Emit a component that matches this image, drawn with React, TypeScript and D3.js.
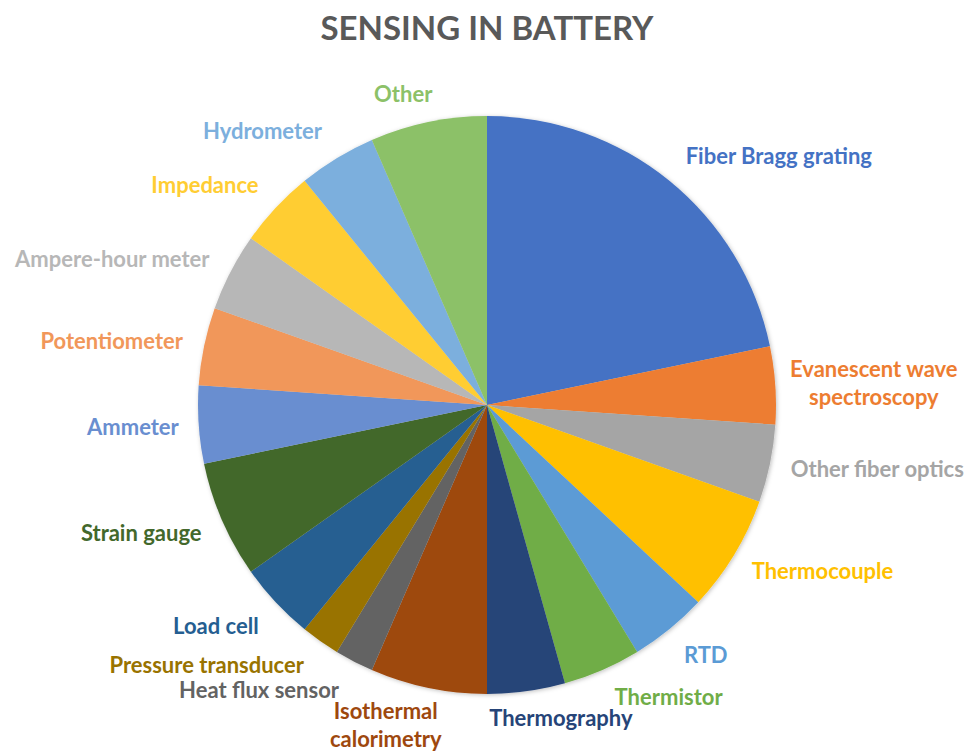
import React, { useEffect, useRef } from 'react';
import * as d3 from 'd3';

const title = 'SENSING IN BATTERY';

const categories = [
  'Fiber Bragg grating',
  'Evanescent wave spectroscopy',
  'Other fiber optics',
  'Thermocouple',
  'RTD',
  'Thermistor',
  'Thermography',
  'Isothermal calorimetry',
  'Heat flux sensor',
  'Pressure transducer',
  'Load cell',
  'Strain gauge',
  'Ammeter',
  'Potentiometer',
  'Ampere-hour meter',
  'Impedance',
  'Hydrometer',
  'Other',
];

const values = [10, 2, 2, 3, 2, 2, 2, 3, 1, 1, 2, 3, 2, 2, 2, 2, 2, 3];

const colors = [
  '#4472C4', '#ED7D31', '#A5A5A5', '#FFC000', '#5B9BD5', '#70AD47',
  '#264478', '#9E480E', '#636363', '#997300', '#255E91', '#43682B',
  '#698ED0', '#F1975A', '#B7B7B7', '#FFCD33', '#7CAFDD', '#8CC168',
];

// labels that Excel wrapped onto two lines
const wrapped: Record<string, string[]> = {
  'Evanescent wave spectroscopy': ['Evanescent wave', 'spectroscopy'],
  'Isothermal calorimetry': ['Isothermal', 'calorimetry'],
};

// hand adjustments of the outside-end label positions (layout only)
const labelShift: [number, number][] = [
  [38, -1], [-5, 1], [3, -1], [11, 1], [10, 3], [37, 0], [22, -3], [-27, -6], [-49, 2],
  [-46, 0], [-14, 4], [-7, 1], [0, 1], [-3, 1], [-14, 1], [-17, -2], [-33, -1], [-15, 2],
];

const W = 968;
const H = 751;
const FONT = 'Lato, "Open Sans", sans-serif';

export default function App() {
  const svgRef = useRef<SVGSVGElement>(null);

  useEffect(() => {
    if (!svgRef.current) return;
    const svg = d3.select(svgRef.current);
    svg.selectAll('*').remove();

    const cx = 487;
    const cy = 405;
    const r = 289;

    const defs = svg.append('defs');
    const f = defs.append('filter').attr('id', 'pieShadow')
      .attr('x', '-10%').attr('y', '-10%').attr('width', '120%').attr('height', '120%');
    f.append('feDropShadow').attr('dx', 1).attr('dy', 1).attr('stdDeviation', 2)
      .attr('flood-color', '#000').attr('flood-opacity', 0.25);

    svg.append('rect').attr('width', W).attr('height', H).attr('fill', '#fff');

    svg.append('text')
      .attr('x', cx)
      .attr('y', 40)
      .attr('text-anchor', 'middle')
      .attr('font-family', FONT)
      .attr('font-weight', 700)
      .attr('font-size', 33)
      .attr('fill', '#595959')
      .text(title);

    const data = categories.map((name, i) => ({ name, value: values[i], color: colors[i], i }));
    const pie = d3.pie<typeof data[number]>().value(d => d.value).sort(null);
    const arcs = pie(data);
    const arc = d3.arc<d3.PieArcDatum<typeof data[number]>>().innerRadius(0).outerRadius(r);

    const g = svg.append('g').attr('transform', `translate(${cx},${cy})`);
    g.append('g').attr('filter', 'url(#pieShadow)')
      .selectAll('path')
      .data(arcs)
      .enter()
      .append('path')
      .attr('d', arc)
      .attr('fill', d => d.data.color);

    // outside-end labels
    const gap = 20;
    const lineH = 28;
    const fontSize = 22;
    arcs.forEach(d => {
      const a = (d.startAngle + d.endAngle) / 2;
      const s = Math.sin(a);
      const c = Math.cos(a);
      const lines = wrapped[d.data.name] ?? [d.data.name];
      const t = g.append('text')
        .attr('text-anchor', 'middle')
        .attr('font-family', FONT)
        .attr('font-weight', 700)
        .attr('font-size', fontSize)
        .attr('fill', d.data.color);
      lines.forEach(line => t.append('tspan').text(line));
      const widths = t.selectAll<SVGTSpanElement, unknown>('tspan').nodes().map(n => n.getComputedTextLength());
      const w = d3.max(widths) ?? 0;
      const h = lines.length * lineH - 8;
      const [sx, sy] = labelShift[d.data.i];
      const lx = (r + gap) * s + (w / 2) * s + sx;
      const ly = -(r + gap) * c - (h / 2) * c + sy;
      const top = ly - ((lines.length - 1) * lineH) / 2;
      t.selectAll('tspan')
        .attr('x', lx)
        .attr('y', (_, k) => top + k * lineH + fontSize * 0.35);
    });
  }, []);

  return (
    <div style={{ position: 'fixed', left: 0, top: 0, width: W, height: H, background: '#fff' }}>
      <svg ref={svgRef} width={W} height={H} style={{ display: 'block' }} />
    </div>
  );
}
